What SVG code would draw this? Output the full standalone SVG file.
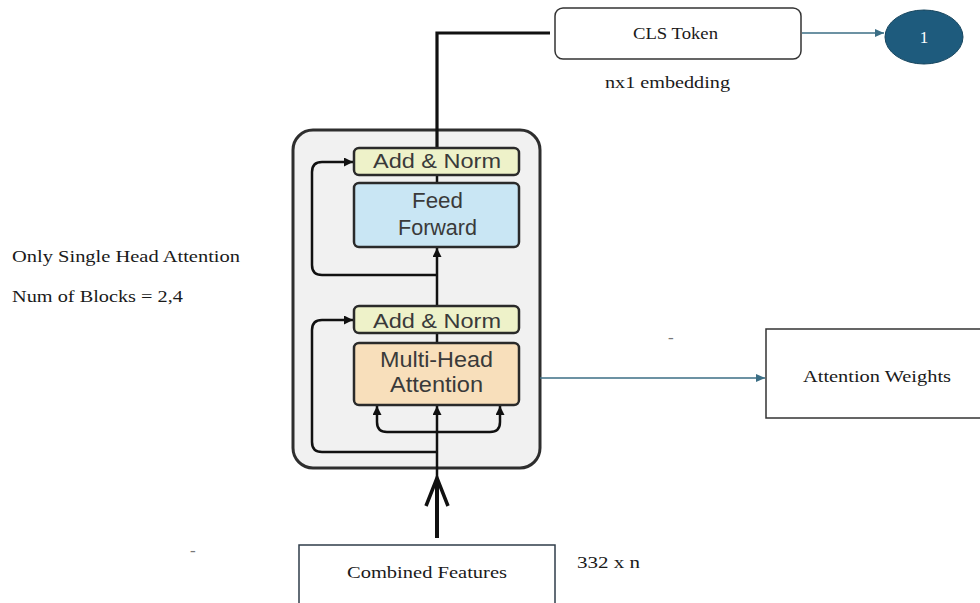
<svg xmlns="http://www.w3.org/2000/svg" width="980" height="603" viewBox="0 0 980 603">
<style>
.serif{font-family:"Liberation Serif","Times New Roman",serif;font-size:17px;fill:#1a1a1a}
.sans{font-family:"Liberation Sans",Arial,sans-serif;fill:#3a3a3a}
.blk{fill:none;stroke:#111;stroke-width:2.5}
.teal{fill:none;stroke:#3b6e85;stroke-width:1.6}
.inner{stroke:#2a2a2a;stroke-width:2.5}
</style>
<defs>
<marker id="ab" markerUnits="userSpaceOnUse" markerWidth="9" markerHeight="9" refX="9" refY="4.5" orient="auto"><path d="M0,0 L9,4.5 L0,9 z" fill="#111"/></marker>
<marker id="at" markerUnits="userSpaceOnUse" markerWidth="9" markerHeight="8" refX="9" refY="4" orient="auto"><path d="M0,0 L9,4 L0,8 z" fill="#3b6e85"/></marker>
</defs>
<rect width="980" height="603" fill="#fff"/>

<g id="encoder-block">
<rect x="293" y="130" width="247" height="338" rx="20" fill="#f1f1f1" stroke="#2e2e2e" stroke-width="3"/>
</g>

<g id="connectors">
<path class="blk" d="M437,275 H322 Q312,275 312,265 V172 Q312,162 322,162 H353" marker-end="url(#ab)"/>
<path class="blk" d="M437,452 H322 Q312,452 312,442 V330 Q312,320 322,320 H353" marker-end="url(#ab)"/>
<path class="blk" d="M437,432 H387 Q377,432 377,422 V406" marker-end="url(#ab)"/>
<path class="blk" d="M437,432 H490 Q500,432 500,422 V406" marker-end="url(#ab)"/>
<path class="blk" d="M437,480 V406" marker-end="url(#ab)"/>
<path class="blk" d="M437,305 V248" marker-end="url(#ab)"/>
<path class="blk" d="M437,333 V343"/>
<path class="blk" d="M437,175 V183"/>
<path d="M437,148 V33 H550" fill="none" stroke="#111" stroke-width="3.2" stroke-linejoin="miter"/>
<path d="M437,538 V479" fill="none" stroke="#111" stroke-width="4"/>
<polyline points="426,506 437,478 448,506" fill="none" stroke="#111" stroke-width="3.5" stroke-linejoin="miter"/>
<path class="teal" d="M540,378 H765" marker-end="url(#at)"/>
<path class="teal" d="M802,33 H884" marker-end="url(#at)"/>
</g>

<g id="add-norm-top">
<rect class="inner" x="354" y="148" width="165" height="27" rx="5" fill="#eef2c9"/>
<text class="sans" x="373" y="168" font-size="21" textLength="128" lengthAdjust="spacingAndGlyphs">Add &amp; Norm</text>
</g>
<g id="feed-forward">
<rect class="inner" x="354" y="183" width="165" height="64" rx="5" fill="#c9e6f4"/>
<text class="sans" x="412" y="208" font-size="22" textLength="51" lengthAdjust="spacingAndGlyphs">Feed</text>
<text class="sans" x="398" y="235" font-size="22" textLength="79" lengthAdjust="spacingAndGlyphs">Forward</text>
</g>
<g id="add-norm-bottom">
<rect class="inner" x="354" y="306" width="165" height="27" rx="5" fill="#eef2c9"/>
<text class="sans" x="373" y="328" font-size="21" textLength="128" lengthAdjust="spacingAndGlyphs">Add &amp; Norm</text>
</g>
<g id="multi-head-attention">
<rect class="inner" x="354" y="343" width="165" height="62" rx="5" fill="#f8dfbb"/>
<text class="sans" x="380" y="367" font-size="22" textLength="113" lengthAdjust="spacingAndGlyphs">Multi-Head</text>
<text class="sans" x="390" y="392" font-size="22" textLength="93" lengthAdjust="spacingAndGlyphs">Attention</text>
</g>

<g id="cls-token">
<rect x="555" y="8" width="246" height="51" rx="8" fill="#fff" stroke="#333" stroke-width="1.5"/>
<text class="serif" x="633" y="39" textLength="85" lengthAdjust="spacingAndGlyphs">CLS Token</text>
<text class="serif" x="605" y="88" textLength="125" lengthAdjust="spacingAndGlyphs">nx1 embedding</text>
</g>
<g id="output-1">
<ellipse cx="924" cy="37" rx="39" ry="27" fill="#1e5b7d" stroke="#17465f" stroke-width="1"/>
<text class="serif" x="924" y="43" text-anchor="middle" style="fill:#fff">1</text>
</g>
<g id="attention-weights">
<rect x="766" y="329" width="220" height="89" fill="#fff" stroke="#333" stroke-width="1.5"/>
<text class="serif" x="803" y="382" textLength="148" lengthAdjust="spacingAndGlyphs">Attention Weights</text>
</g>
<g id="combined-features">
<rect x="299" y="545" width="256" height="62" fill="#fff" stroke="#2f3d4a" stroke-width="1.5"/>
<text class="serif" x="347" y="578" textLength="160" lengthAdjust="spacingAndGlyphs">Combined Features</text>
<text class="serif" x="577" y="568" textLength="63" lengthAdjust="spacingAndGlyphs">332 x n</text>
</g>
<g id="notes">
<text class="serif" x="12" y="262" textLength="228" lengthAdjust="spacingAndGlyphs">Only Single Head Attention</text>
<text class="serif" x="12" y="302" textLength="171" lengthAdjust="spacingAndGlyphs">Num of Blocks = 2,4</text>
<text class="serif" x="190" y="556" font-size="10" style="fill:#777">-</text>
<text class="serif" x="668" y="343" font-size="10" style="fill:#777">-</text>
</g>
</svg>
